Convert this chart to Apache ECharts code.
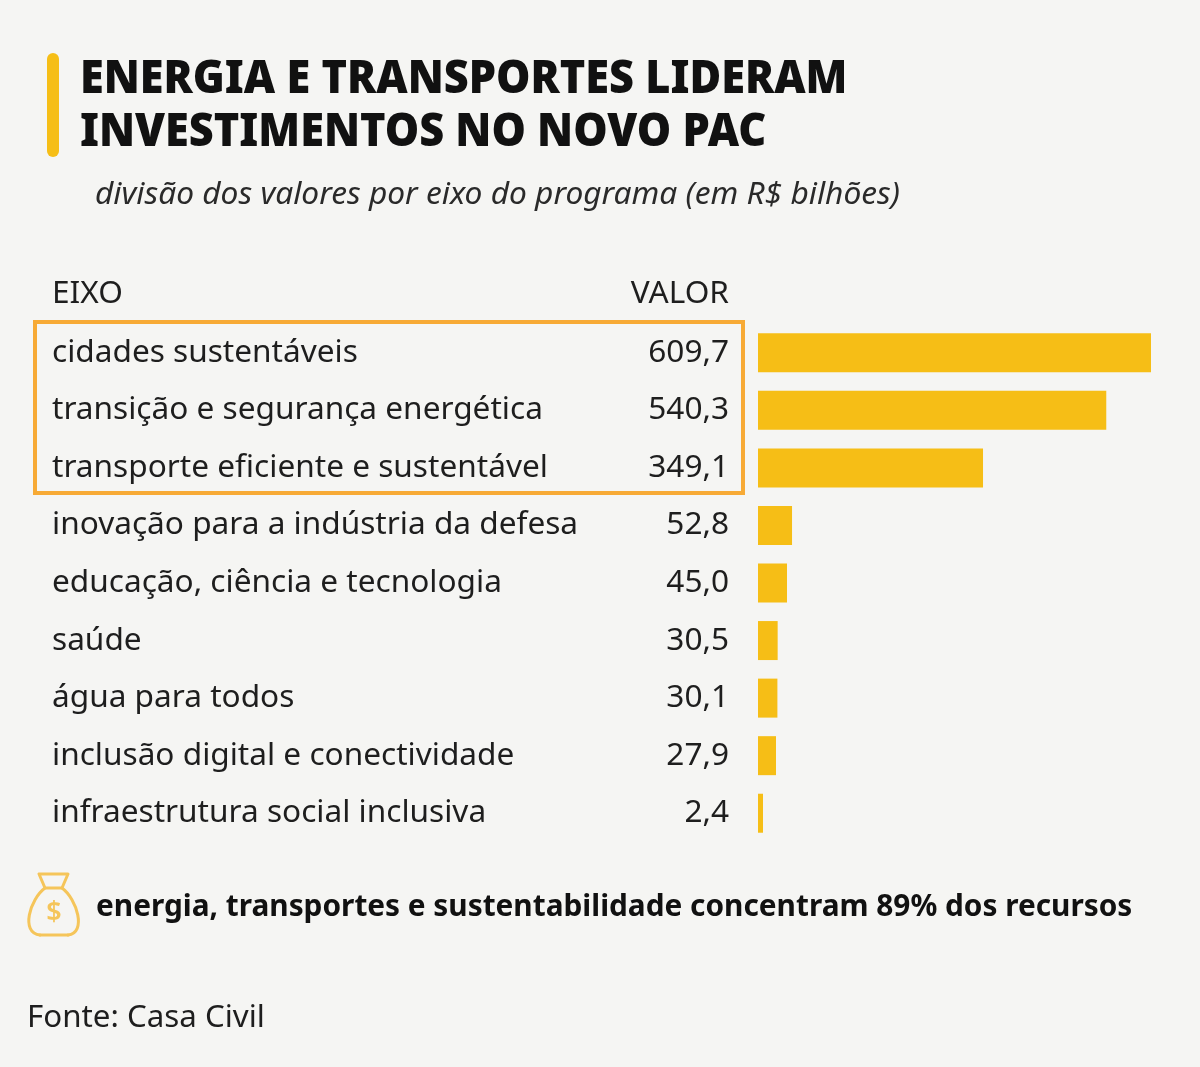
<!DOCTYPE html>
<html>
<head>
<meta charset="utf-8">
<script src="https://cdn.jsdelivr.net/npm/echarts@6/dist/echarts.min.js"></script>
<style>
  html, body { margin: 0; padding: 0; background: #f5f5f3; }
  #main { width: 1200px; height: 1067px; }
</style>
</head>
<body>
<div id="main"></div>
<script>
// eixos do programa e valores (R$ bilhões)
const eixos = [
  'cidades sustentáveis',
  'transição e segurança energética',
  'transporte eficiente e sustentável',
  'inovação para a indústria da defesa',
  'educação, ciência e tecnologia',
  'saúde',
  'água para todos',
  'inclusão digital e conectividade',
  'infraestrutura social inclusiva'
];
const valores = [609.7, 540.3, 349.1, 52.8, 45.0, 30.5, 30.1, 27.9, 2.4];

const FONT = '"Noto Sans", "Open Sans", sans-serif';
const YELLOW = '#f6be16';
const ORANGE = '#f7aa35';
const BAG = '#f5c55a';

const fmt = v => v.toFixed(1).replace('.', ',');

window.onload = function () {
  const chartDom = document.getElementById('main');
  const myChart = echarts.init(chartDom, null, { renderer: 'canvas' });

  const bagLine = { fill: 'none', stroke: BAG, lineWidth: 3, lineCap: 'round', lineJoin: 'round' };

  const option = {
    backgroundColor: '#f5f5f3',
    animation: false,
    grid: { left: 758, right: 49, top: 324, height: 518, containLabel: false },
    xAxis: {
      type: 'value',
      min: 0,
      max: Math.max(...valores),
      show: false
    },
    yAxis: {
      type: 'category',
      data: eixos,
      inverse: true,
      axisLine: { show: false },
      axisTick: { show: false },
      splitLine: { show: false },
      axisLabel: {
        align: 'left',
        margin: 706,
        fontSize: 31.6,
        fontFamily: FONT,
        color: '#1e1e1e'
      }
    },
    series: [{
      type: 'bar',
      data: valores,
      barWidth: 39,
      barMinHeight: 5,
      itemStyle: { color: YELLOW },
      label: {
        show: true,
        position: 'left',
        distance: 29,
        fontSize: 31.6,
        fontFamily: FONT,
        color: '#1e1e1e',
        formatter: p => fmt(p.value)
      }
    }],
    graphic: [
      // barra amarela do título
      { type: 'rect', shape: { x: 47, y: 53, width: 12, height: 104, r: 6 }, style: { fill: YELLOW } },
      { type: 'text', x: 80, y: 80, scaleX: 0.94,
        style: { text: 'ENERGIA E TRANSPORTES LIDERAM', font: '900 46px ' + FONT, fill: '#111', align: 'left', verticalAlign: 'middle' } },
      { type: 'text', x: 80, y: 133, scaleX: 0.94,
        style: { text: 'INVESTIMENTOS NO NOVO PAC', font: '900 46px ' + FONT, fill: '#111', align: 'left', verticalAlign: 'middle' } },
      { type: 'text', x: 95, y: 195,
        style: { text: 'divisão dos valores por eixo do programa (em R$ bilhões)', font: 'italic 31.7px ' + FONT, fill: '#2a2a2a', align: 'left', verticalAlign: 'middle' } },
      // cabeçalho da tabela
      { type: 'text', x: 52, y: 294,
        style: { text: 'EIXO', font: '31.6px ' + FONT, fill: '#1e1e1e', align: 'left', verticalAlign: 'middle' } },
      { type: 'text', x: 729, y: 294,
        style: { text: 'VALOR', font: '31.6px ' + FONT, fill: '#1e1e1e', align: 'right', verticalAlign: 'middle' } },
      // destaque dos três maiores
      { type: 'rect', shape: { x: 35, y: 322, width: 708, height: 171 }, style: { fill: 'none', stroke: ORANGE, lineWidth: 4 } },
      // ícone saco de dinheiro
      { type: 'polygon', shape: { points: [[39, 874], [68, 874], [62, 888], [45, 888]] }, style: bagLine },
      { type: 'bezierCurve', shape: { x1: 45, y1: 888, cpx1: 30, cpy1: 899, cpx2: 20, cpy2: 933, x2: 40, y2: 935 }, style: bagLine },
      { type: 'bezierCurve', shape: { x1: 62, y1: 888, cpx1: 77, cpy1: 899, cpx2: 87, cpy2: 933, x2: 68, y2: 935 }, style: bagLine },
      { type: 'line', shape: { x1: 40, y1: 935, x2: 68, y2: 935 }, style: bagLine },
      { type: 'text', x: 54, y: 913,
        style: { text: '$', font: '600 27px ' + FONT, fill: BAG, align: 'center', verticalAlign: 'middle' } },
      { type: 'text', x: 96, y: 908,
        style: { text: 'energia, transportes e sustentabilidade concentram 89% dos recursos', font: 'bold 29.8px ' + FONT, fill: '#111', align: 'left', verticalAlign: 'middle' } },
      { type: 'text', x: 27, y: 1018,
        style: { text: 'Fonte: Casa Civil', font: '31.3px ' + FONT, fill: '#1e1e1e', align: 'left', verticalAlign: 'middle' } }
    ]
  };

  option && myChart.setOption(option);
};
</script>
</body>
</html>
